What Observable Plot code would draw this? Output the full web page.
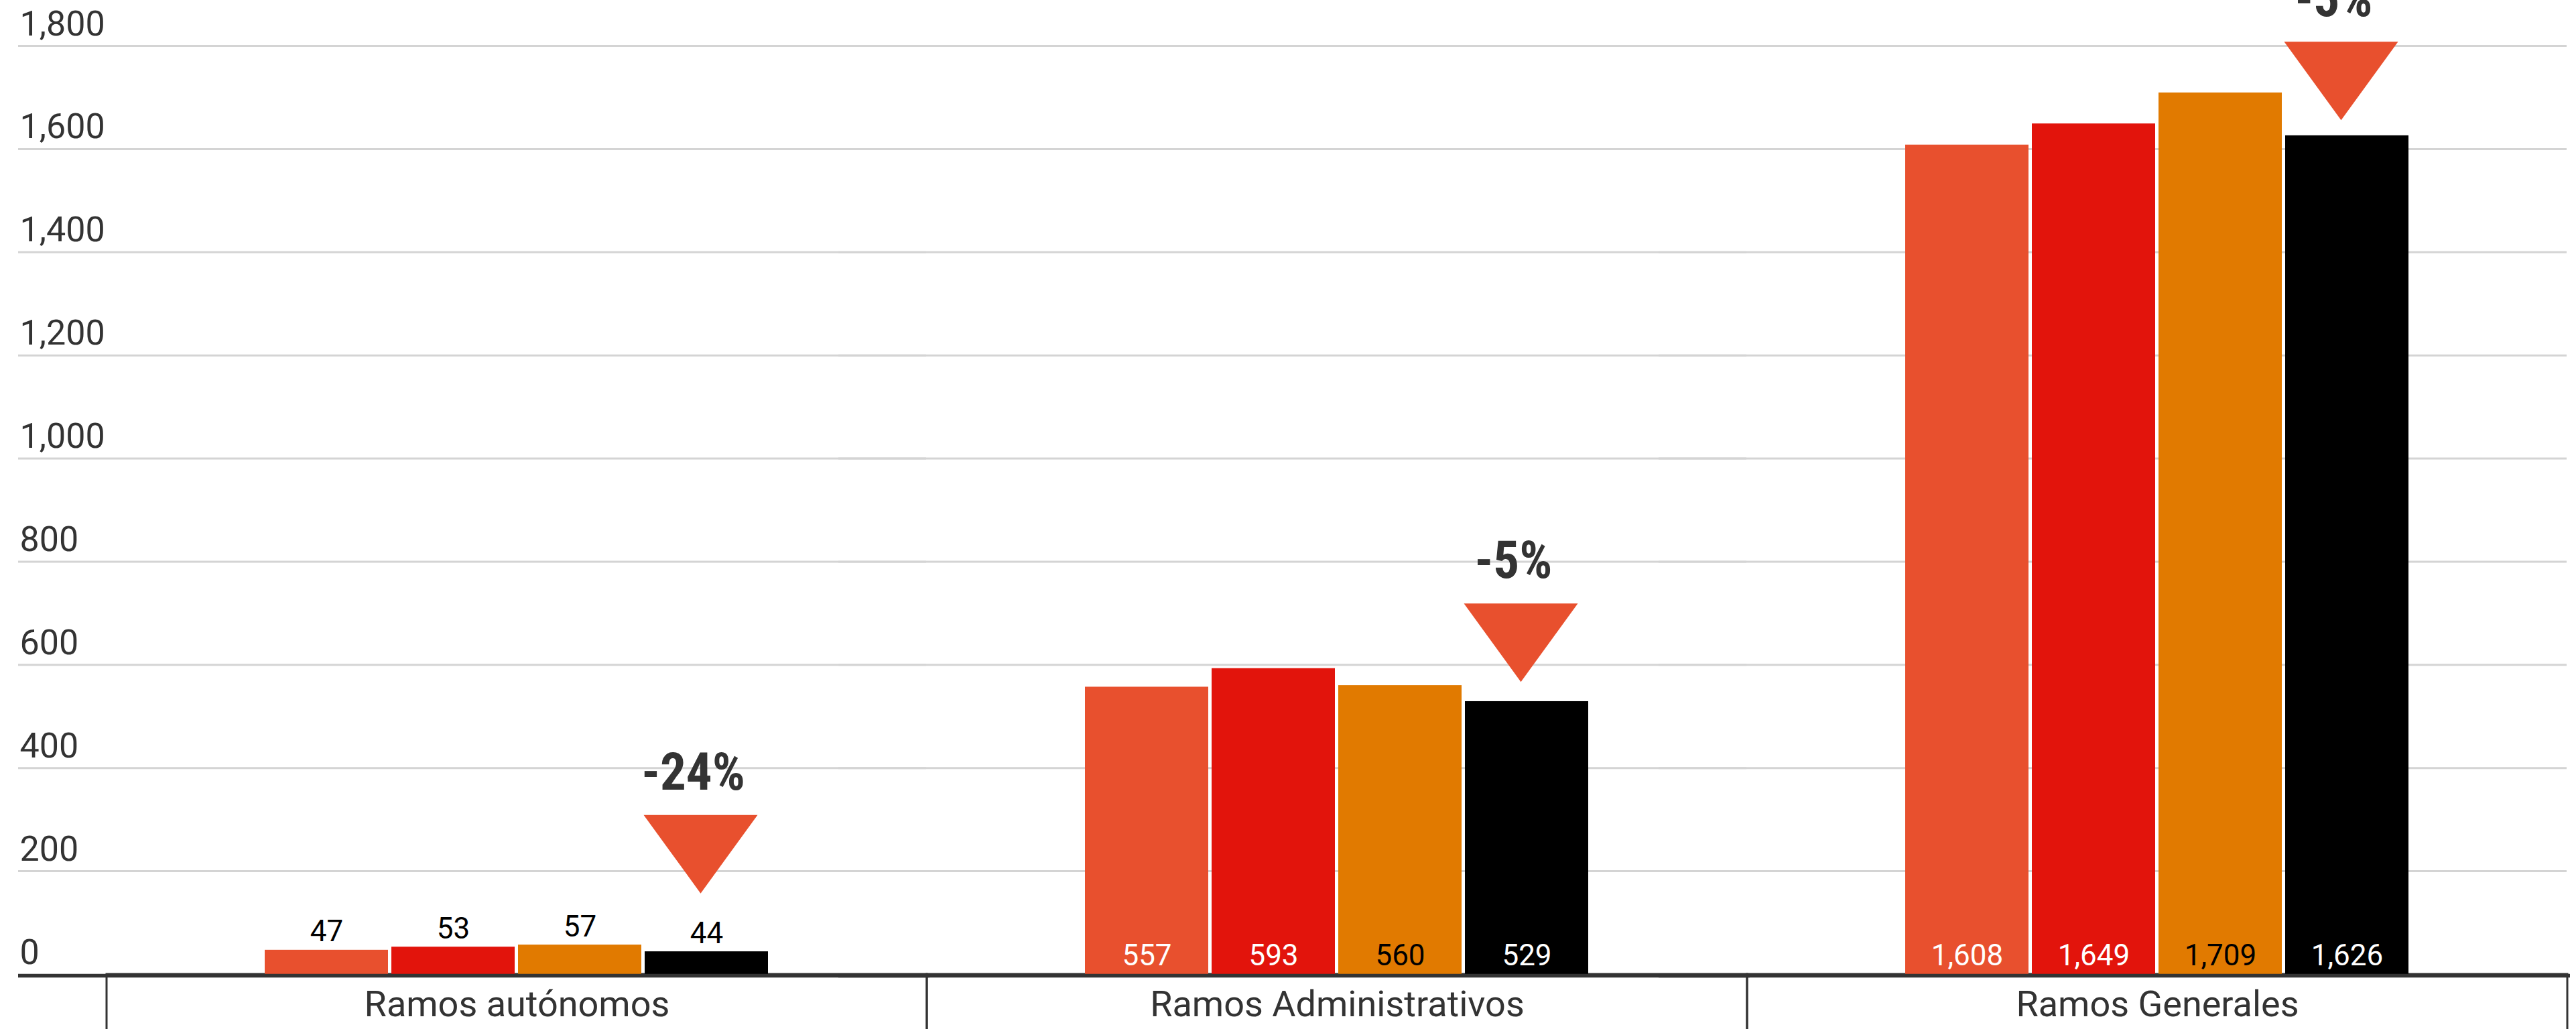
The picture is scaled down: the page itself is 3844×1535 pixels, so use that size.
<!DOCTYPE html>
<html>
<head>
<meta charset="utf-8">
<script src="https://cdn.jsdelivr.net/npm/d3@7"></script>
<script src="https://cdn.jsdelivr.net/npm/@observablehq/plot@0.6"></script>
<style>
  html, body { margin: 0; padding: 0; background: #fff; overflow: hidden; }
  #chart svg { display: block; }
</style>
</head>
<body>
<div id="chart"></div>
<script>
// ---- data ----
const categories = ["Ramos autónomos", "Ramos Administrativos", "Ramos Generales"];
const series = ["Serie 1", "Serie 2", "Serie 3", "Serie 4"];
const valuesSerie1 = [47, 557, 1608];
const valuesSerie2 = [53, 593, 1649];
const valuesSerie3 = [57, 560, 1709];
const valuesSerie4 = [44, 529, 1626];
const seriesColors = ["#e8502e", "#e2140c", "#e17a00", "#000000"];
const insideLabelColors = ["#ffffff", "#ffffff", "#000000", "#ffffff"];
const changeLabels = ["-24%", "-5%", "-5%"];
const changeMarkerLevels = [157, 567, 1656];
const yTicks = [0, 200, 400, 600, 800, 1000, 1200, 1400, 1600, 1800];

// ---- tables built from the arrays ----
const seriesValues = [valuesSerie1, valuesSerie2, valuesSerie3, valuesSerie4];
const rows = categories.flatMap((c, i) =>
  series.map((s, j) => ({ category: c, series: s, value: seriesValues[j][i] }))
);
const annotations = categories.map((c, i) => ({
  category: c, series: series[series.length - 1], level: changeMarkerLevels[i], label: changeLabels[i]
}));
const fmt = d3.format(",");

// downward pointing triangle with its tip at the anchor point
const downTriangle = {
  draw(ctx, size) {
    const r = Math.sqrt(size / Math.PI);
    const h = 2 * r * 0.688;
    ctx.moveTo(-r, -h);
    ctx.lineTo(r, -h);
    ctx.lineTo(0, 0);
    ctx.closePath();
  }
};

const insideLabelMarks = series.map((s, j) =>
  Plot.text(rows.filter(d => d.series === s && d.value >= 200), {
    fx: "category", x: "series", y: () => 0, text: d => fmt(d.value),
    dy: -14, lineAnchor: "bottom", fontSize: 44, fill: insideLabelColors[j]
  })
);

const chart = Plot.plot({
  width: 3844,
  height: 1535,
  marginTop: 68,
  marginBottom: 82,
  marginLeft: 158,
  marginRight: 12,
  style: { fontFamily: "Roboto, sans-serif", background: "#fff", overflow: "visible" },
  fx: { domain: categories, padding: 0, axis: null },
  x: { domain: series, paddingInner: 0.0263, paddingOuter: 1.236, axis: null },
  y: { domain: [0, 1800], axis: null },
  color: { domain: series, range: seriesColors },
  marks: [
    Plot.ruleY(yTicks.filter(d => d > 0), { stroke: "#d4d4d4", strokeWidth: 3, insetLeft: -132, insetRight: 1 }),
    Plot.text(yTicks, {
      fx: () => categories[0], y: d => d, text: d => fmt(d),
      frameAnchor: "left", textAnchor: "start", lineAnchor: "bottom",
      dx: -130, dy: -16, fontSize: 52, fill: "#333"
    }),
    Plot.rect(categories, {
      fx: d => d, y1: () => 0, y2: () => 0, insetBottom: -100,
      fill: "none", stroke: "#333", strokeWidth: 3
    }),
    Plot.barY(rows, { fx: "category", x: "series", y: "value", fill: "series" }),
    Plot.ruleY([0], { stroke: "#333", strokeWidth: 5.5, insetLeft: -132, insetRight: -4, dy: 2 }),
    Plot.text(rows.filter(d => d.value < 200), {
      fx: "category", x: "series", y: "value", text: d => fmt(d.value),
      dy: -13, lineAnchor: "bottom", fontSize: 44, fill: "#000"
    }),
    ...insideLabelMarks,
    Plot.dot(annotations, {
      fx: "category", x: "series", y: "level", symbol: downTriangle, r: 85,
      fill: "#e8502e", stroke: null, dx: -9
    }),
    Plot.text(annotations, {
      fx: "category", x: "series", y: "level", text: "label",
      dx: -20, dy: -155, lineAnchor: "bottom",
      fontFamily: "'Roboto Condensed', 'Liberation Sans Narrow', Roboto, sans-serif",
      fontWeight: 700, fontSize: 77, fill: "#333"
    }),
    Plot.text(categories, {
      fx: d => d, text: d => d, frameAnchor: "bottom", lineAnchor: "bottom",
      dy: 62, fontSize: 54, fill: "#333"
    })
  ]
});
document.getElementById("chart").appendChild(chart);
</script>
</body>
</html>
